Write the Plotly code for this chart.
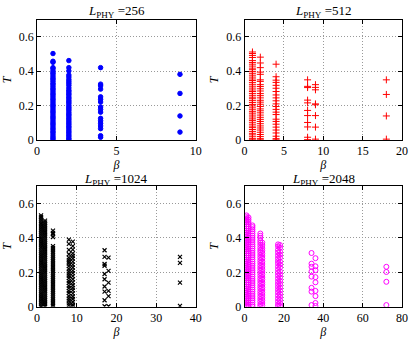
import plotly.graph_objects as go

# ---- data: T values for each beta column, per L_PHY ----
beta_256 = [1, 2, 4, 9]
T_256 = [
    [0.503, 0.458, 0.452, 0.421, 0.415, 0.402, 0.391, 0.384, 0.372, 0.361, 0.353, 0.342, 0.330, 0.322, 0.311,
     0.300, 0.292, 0.281, 0.270, 0.262, 0.251, 0.240, 0.232, 0.221, 0.210, 0.201, 0.192, 0.181, 0.170, 0.162,
     0.151, 0.140, 0.131, 0.122, 0.111, 0.100, 0.092, 0.081, 0.070, 0.061, 0.050, 0.042, 0.031, 0.020, 0.011, 0.003],
    [0.462, 0.421, 0.402, 0.378, 0.366, 0.352, 0.341, 0.330, 0.318, 0.303, 0.290, 0.281, 0.270, 0.262, 0.250,
     0.241, 0.230, 0.221, 0.212, 0.200, 0.190, 0.181, 0.172, 0.160, 0.150, 0.141, 0.130, 0.121, 0.110, 0.100,
     0.091, 0.080, 0.071, 0.060, 0.050, 0.041, 0.030, 0.021, 0.010, 0.002],
    [0.421, 0.325, 0.315, 0.296, 0.251, 0.237, 0.221, 0.192, 0.178, 0.162, 0.126, 0.112, 0.097, 0.082, 0.066,
     0.025, 0.016],
    [0.382, 0.271, 0.140, 0.046],
]

beta_512 = [1, 2, 4, 8, 9, 18]
T_512 = [
    [0.512, 0.503, 0.492, 0.480, 0.462, 0.451, 0.441, 0.430, 0.418, 0.409, 0.398, 0.388, 0.377, 0.366, 0.355,
     0.346, 0.335, 0.324, 0.313, 0.302, 0.291, 0.282, 0.271, 0.260, 0.249, 0.240, 0.229, 0.218, 0.207, 0.198,
     0.187, 0.176, 0.165, 0.156, 0.145, 0.134, 0.123, 0.114, 0.103, 0.092, 0.081, 0.072, 0.061, 0.050, 0.039,
     0.030, 0.019, 0.008, 0.001],
    [0.482, 0.448, 0.421, 0.395, 0.382, 0.350, 0.341, 0.322, 0.311, 0.298, 0.285, 0.270, 0.258, 0.245, 0.231,
     0.220, 0.208, 0.195, 0.181, 0.170, 0.158, 0.145, 0.132, 0.120, 0.108, 0.095, 0.082, 0.070, 0.058, 0.045,
     0.032, 0.020, 0.008, 0.001],
    [0.441, 0.368, 0.348, 0.335, 0.318, 0.301, 0.282, 0.262, 0.245, 0.228, 0.210, 0.195, 0.178, 0.162, 0.148,
     0.121, 0.108, 0.092, 0.075, 0.058, 0.041, 0.022, 0.008, 0.001],
    [0.350, 0.312, 0.305, 0.232, 0.216, 0.172, 0.142, 0.102, 0.076, 0.016, 0.002],
    [0.322, 0.306, 0.292, 0.210, 0.205, 0.142, 0.075, 0.005],
    [0.350, 0.265, 0.140, 0.005],
]

beta_1024 = [1, 2, 4, 8, 9, 17, 18, 36]
T_1024 = [
    [0.530, 0.522, 0.512, 0.501, 0.490, 0.480, 0.469, 0.458, 0.447, 0.436, 0.425, 0.414, 0.403, 0.392, 0.381,
     0.370, 0.359, 0.348, 0.337, 0.326, 0.315, 0.304, 0.293, 0.282, 0.271, 0.260, 0.249, 0.238, 0.227, 0.216,
     0.205, 0.194, 0.183, 0.172, 0.161, 0.150, 0.139, 0.128, 0.117, 0.106, 0.095, 0.084, 0.073, 0.062, 0.051,
     0.040, 0.029, 0.018, 0.007, 0.001],
    [0.500, 0.489, 0.478, 0.467, 0.456, 0.445, 0.434, 0.423, 0.412, 0.401, 0.390, 0.379, 0.368, 0.357, 0.346,
     0.335, 0.324, 0.313, 0.302, 0.291, 0.280, 0.269, 0.258, 0.247, 0.236, 0.225, 0.214, 0.203, 0.192, 0.181,
     0.170, 0.159, 0.148, 0.137, 0.126, 0.115, 0.104, 0.093, 0.082, 0.071, 0.060, 0.049, 0.038, 0.027, 0.016,
     0.005],
    [0.442, 0.428, 0.421, 0.405, 0.352, 0.341, 0.330, 0.319, 0.308, 0.297, 0.286, 0.275, 0.264, 0.253, 0.242,
     0.231, 0.220, 0.209, 0.198, 0.187, 0.176, 0.165, 0.154, 0.143, 0.132, 0.121, 0.110, 0.099, 0.088, 0.077,
     0.066, 0.055, 0.044, 0.033, 0.022, 0.011, 0.002],
    [0.390, 0.365, 0.330, 0.305, 0.285, 0.272, 0.261, 0.250, 0.236, 0.220, 0.205, 0.192, 0.180, 0.166, 0.150,
     0.138, 0.121, 0.108, 0.092, 0.080, 0.062, 0.048, 0.035, 0.020, 0.008],
    [0.378, 0.352, 0.332, 0.310, 0.295, 0.280, 0.262, 0.245, 0.228, 0.210, 0.195, 0.178, 0.160, 0.142, 0.125,
     0.110, 0.095, 0.078, 0.060, 0.045, 0.028, 0.012, 0.003],
    [0.328, 0.290, 0.248, 0.238, 0.190, 0.160, 0.118, 0.088, 0.038, 0.003],
    [0.285, 0.208, 0.140, 0.092, 0.062, 0.003],
    [0.290, 0.255, 0.140, 0.005],
]

beta_2048 = [1, 2, 4, 8, 9, 17, 18, 34, 36, 72]
T_2048 = [
    [0.530, 0.520, 0.510, 0.500, 0.490, 0.478, 0.466, 0.454, 0.442, 0.430, 0.418, 0.406, 0.394, 0.382, 0.370,
     0.358, 0.346, 0.334, 0.322, 0.310, 0.298, 0.286, 0.274, 0.262, 0.250, 0.238, 0.226, 0.214, 0.202, 0.190,
     0.178, 0.166, 0.154, 0.142, 0.130, 0.118, 0.106, 0.094, 0.082, 0.070, 0.058, 0.046, 0.034, 0.022, 0.010,
     0.002],
    [0.518, 0.505, 0.492, 0.479, 0.466, 0.453, 0.440, 0.427, 0.414, 0.401, 0.388, 0.375, 0.362, 0.349, 0.336,
     0.323, 0.310, 0.297, 0.284, 0.271, 0.258, 0.245, 0.232, 0.219, 0.206, 0.193, 0.180, 0.167, 0.154, 0.141,
     0.128, 0.115, 0.102, 0.089, 0.076, 0.063, 0.050, 0.037, 0.024, 0.011, 0.002],
    [0.472, 0.462, 0.450, 0.438, 0.425, 0.412, 0.400, 0.388, 0.375, 0.362, 0.350, 0.338, 0.325, 0.312, 0.300,
     0.288, 0.275, 0.262, 0.250, 0.238, 0.225, 0.212, 0.200, 0.188, 0.175, 0.162, 0.150, 0.138, 0.125, 0.112,
     0.100, 0.088, 0.075, 0.062, 0.050, 0.038, 0.025, 0.012, 0.002],
    [0.425, 0.412, 0.400, 0.385, 0.372, 0.358, 0.342, 0.328, 0.315, 0.300, 0.285, 0.270, 0.255, 0.240, 0.225,
     0.210, 0.195, 0.180, 0.165, 0.150, 0.135, 0.120, 0.105, 0.090, 0.075, 0.060, 0.045, 0.030, 0.015, 0.003],
    [0.372, 0.358, 0.340, 0.325, 0.310, 0.295, 0.280, 0.262, 0.248, 0.232, 0.218, 0.202, 0.188, 0.172, 0.158,
     0.142, 0.128, 0.112, 0.098, 0.082, 0.068, 0.052, 0.038, 0.022, 0.008],
    [0.362, 0.350, 0.330, 0.315, 0.298, 0.282, 0.265, 0.250, 0.232, 0.215, 0.198, 0.182, 0.165, 0.148, 0.132,
     0.115, 0.098, 0.082, 0.065, 0.048, 0.032, 0.015, 0.003],
    [0.358, 0.342, 0.320, 0.302, 0.285, 0.262, 0.245, 0.228, 0.205, 0.188, 0.170, 0.150, 0.132, 0.112, 0.095,
     0.075, 0.058, 0.040, 0.022, 0.005],
    [0.312, 0.250, 0.232, 0.205, 0.175, 0.110, 0.088, 0.010],
    [0.282, 0.235, 0.212, 0.172, 0.142, 0.092, 0.062, 0.022, 0.005],
    [0.232, 0.202, 0.145, 0.010],
]

panels = [
    ('256', beta_256, T_256, [0, 10], [0, 5, 10], 'blue', 'circle', 4.5, 1),
    ('512', beta_512, T_512, [0, 20], [0, 5, 10, 15, 20], 'red', 'cross-thin-open', 5, 1),
    ('1024', beta_1024, T_1024, [0, 40], [0, 10, 20, 30, 40], 'black', 'x-thin-open', 4, 1.2),
    ('2048', beta_2048, T_2048, [0, 80], [0, 20, 40, 60, 80], 'magenta', 'circle-open', 5, 1),
]

x_domains = [[0.084, 0.475], [0.595, 0.983]]
y_domains = [[0.587, 0.942], [0.095, 0.451]]

FONT = 'Liberation Serif'
fig = go.Figure()
layout = dict(
    width=415, height=346, showlegend=False,
    margin=dict(l=0, r=0, t=0, b=0),
    plot_bgcolor='white', paper_bgcolor='white',
    font=dict(family=FONT, size=12, color='black'),
)
annotations = []

for i, (L, betas, Ts, xr, xt, color, symbol, size, lw) in enumerate(panels):
    row, col = divmod(i, 2)
    n = i + 1
    xa = 'x' if n == 1 else f'x{n}'
    ya = 'y' if n == 1 else f'y{n}'
    xs, ys = [], []
    for b, col_T in zip(betas, Ts):
        xs += [b] * len(col_T)
        ys += col_T
    fig.add_trace(go.Scatter(x=xs, y=ys, mode='markers', xaxis=xa, yaxis=ya,
                             marker=dict(symbol=symbol, size=size, color=color,
                                         line=dict(color=color, width=lw))))
    axis_common = dict(showline=True, linecolor='black', linewidth=1, mirror='ticks',
                       ticks='inside', ticklen=4, tickcolor='black',
                       showgrid=True, gridcolor='#999', griddash='1px,2px', gridwidth=1,
                       zeroline=False, tickfont=dict(family=FONT, size=12))
    layout['xaxis' if n == 1 else f'xaxis{n}'] = dict(
        axis_common, domain=x_domains[col], range=xr, tickvals=xt, anchor=ya,
        title=dict(text='<i>β</i>', standoff=0, font=dict(size=12)))
    layout['yaxis' if n == 1 else f'yaxis{n}'] = dict(
        axis_common, domain=y_domains[row], range=[0, 0.7], tickvals=[0, 0.2, 0.4, 0.6],
        ticktext=['0', '0.2', '0.4', '0.6'], anchor=xa,
        title=dict(text='<i>T</i>', standoff=4, font=dict(size=12)))
    annotations.append(dict(
        text=f'<i>L</i><sub>PHY</sub> ={L}', xref='paper', yref='paper',
        x=sum(x_domains[col]) / 2, y=y_domains[row][1], xanchor='center', yanchor='bottom',
        yshift=-1 if row == 0 else -3, borderpad=0, showarrow=False,
        font=dict(family=FONT, size=13)))

layout['annotations'] = annotations
fig.update_layout(**layout)
fig.write_html('out.html', config={'displayModeBar': False},
               post_script="document.body.style.margin='0';document.body.style.overflow='hidden';")
